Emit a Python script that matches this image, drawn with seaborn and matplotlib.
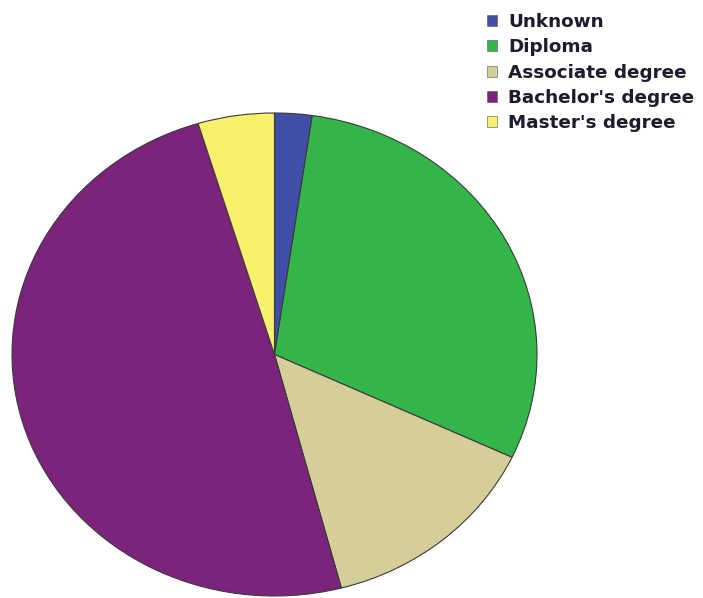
import matplotlib.pyplot as plt
import seaborn as sns
from matplotlib.patches import Patch

# Education levels (percent)
levels = ["Unknown", "Diploma", "Associate degree", "Bachelor's degree", "Master's degree"]
shares = [2.3, 29.7, 13.9, 49.4, 4.7]
colors = ["#3F4FA8", "#33B54A", "#D5CE98", "#7C237B", "#F9F16E"]

sns.set_style("white")
plt.rcParams["font.family"] = ["DejaVu Sans"]

fig = plt.figure(figsize=(7.03, 5.98), dpi=100)

# pie axes, stretched a bit wider than tall like the original
ax = fig.add_axes([12 / 703, 2 / 598, 525 / 703, 483 / 598])
ax.pie(
    shares,
    colors=colors,
    startangle=90,
    counterclock=False,
    wedgeprops={"edgecolor": "#3a3a3a", "linewidth": 0.8},
)
ax.set_aspect("auto")
ax.set_xlim(-1, 1)
ax.set_ylim(-1, 1)
ax.axis("off")

# legend in the top right corner
handles = [Patch(facecolor=c, edgecolor="#555555", linewidth=0.4) for c in colors]
fig.legend(
    handles,
    levels,
    loc="upper left",
    bbox_to_anchor=(487 / 703, 1 - 13 / 598),
    frameon=False,
    borderaxespad=0,
    borderpad=0,
    handlelength=0.55,
    handleheight=0.55,
    handletextpad=0.6,
    labelspacing=0.4,
    prop={"size": 13.2, "weight": "bold"},
)
for t in fig.legends[0].get_texts():
    t.set_color("#1c1c2e")

plt.savefig("out.png", dpi=100)
